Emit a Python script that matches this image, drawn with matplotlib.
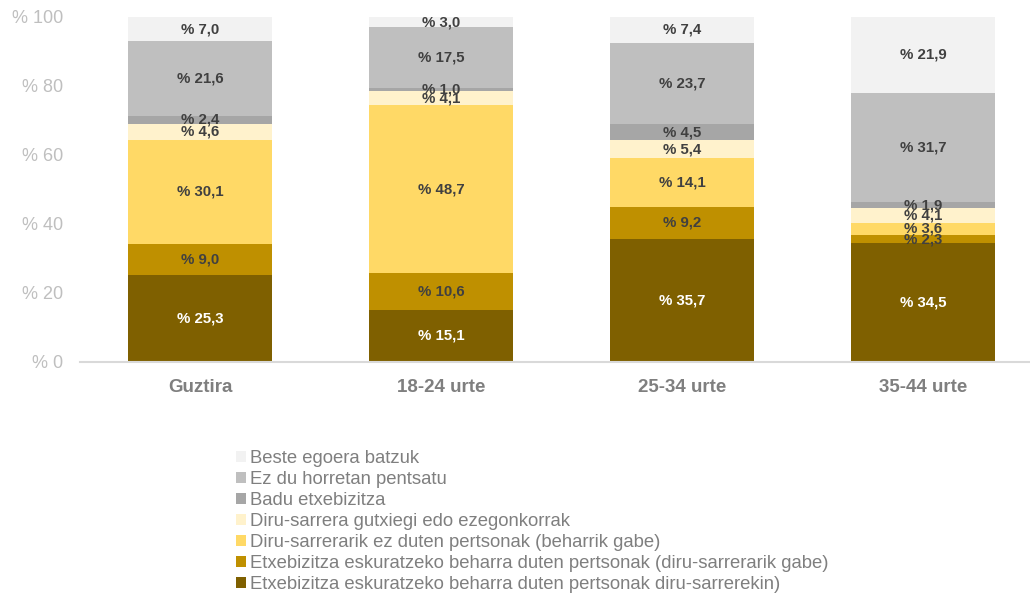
import numpy as np
import matplotlib
matplotlib.use("Agg")
import matplotlib.pyplot as plt

plt.rcParams['font.family'] = ['Liberation Sans', 'DejaVu Sans']

categories = ['Guztira', '18-24 urte', '25-34 urte', '35-44 urte']
series_names = [
    'Etxebizitza eskuratzeko beharra duten pertsonak diru-sarrerekin)',
    'Etxebizitza eskuratzeko beharra duten pertsonak (diru-sarrerarik gabe)',
    'Diru-sarrerarik ez duten pertsonak (beharrik gabe)',
    'Diru-sarrera gutxiegi edo ezegonkorrak',
    'Badu etxebizitza',
    'Ez du horretan pentsatu',
    'Beste egoera batzuk',
]
beharra_diru = [25.3, 15.1, 35.7, 34.5]
beharra_gabe = [9.0, 10.6, 9.2, 2.3]
diru_ez = [30.1, 48.7, 14.1, 3.6]
gutxiegi = [4.6, 4.1, 5.4, 4.1]
badu = [2.4, 1.0, 4.5, 1.9]
ez_pentsatu = [21.6, 17.5, 23.7, 31.7]
beste = [7.0, 3.0, 7.4, 21.9]
values = [beharra_diru, beharra_gabe, diru_ez, gutxiegi, badu, ez_pentsatu, beste]
colors = ['#7F6000', '#BF9000', '#FFD966', '#FFF2CC', '#A6A6A6', '#BFBFBF', '#F2F2F2']
label_colors = ['white'] + ['#404040'] * 6

fig = plt.figure(figsize=(10.30, 5.95), dpi=100)
ax = fig.add_axes([79.5 / 1030, 1 - 362 / 595, 964 / 1030, 345 / 595])

x = np.arange(len(categories))
bottom = np.zeros(len(categories))
handles = []
for vals, col, lc, name in zip(values, colors, label_colors, series_names):
    vals = np.array(vals)
    b = ax.bar(x, vals, 0.6, bottom=bottom, color=col, label=name, edgecolor='none')
    handles.append(b)
    for xi, v, bt in zip(x, vals, bottom):
        ax.text(xi, bt + v / 2, '% ' + f'{v:.1f}'.replace('.', ','),
                ha='center', va='center', fontsize=10.8, fontweight='bold', color=lc)
    bottom += vals

ax.set_xlim(-0.5, 3.5)
ax.set_ylim(0, 100)
ax.set_yticks(range(0, 101, 20))
ax.set_yticklabels(['% ' + str(t) for t in range(0, 101, 20)], fontsize=13, color='#BFBFBF')
ax.set_xticks(x)
ax.set_xticklabels(categories, fontsize=13.5, fontweight='bold', color='#7F7F7F')
ax.tick_params(axis='both', length=0)
ax.tick_params(axis='y', pad=12)
ax.tick_params(axis='x', pad=12)
for s in ['top', 'right', 'left']:
    ax.spines[s].set_visible(False)
ax.spines['bottom'].set_color('#D9D9D9')
ax.spines['bottom'].set_linewidth(1.5)

leg = fig.legend(handles[::-1], series_names[::-1], loc='upper left',
                 bbox_to_anchor=(236 / 1030, 1 - 450 / 595), frameon=False,
                 fontsize=13.3, handlelength=0.55, handleheight=0.55, handletextpad=0.2,
                 labelspacing=0.22, borderpad=0, borderaxespad=0)
for t in leg.get_texts():
    t.set_color('#7F7F7F')

fig.savefig('out.png', dpi=100)
